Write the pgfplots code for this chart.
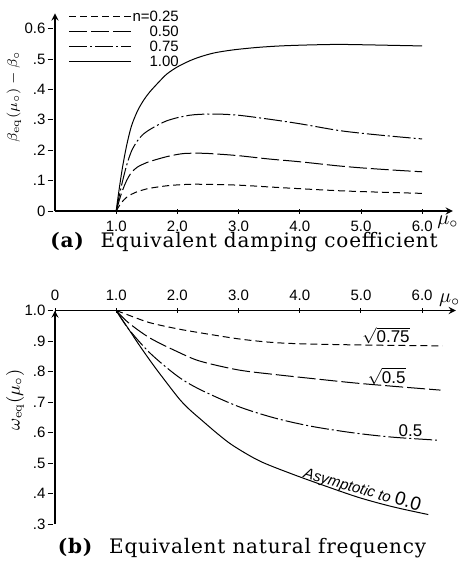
\documentclass[border=0pt]{standalone}
\usepackage{amsmath}
\usepackage{fontspec}
\usepackage{pgfplots}
\pgfplotsset{compat=1.18}
\setsansfont{Liberation Sans}
\newfontfamily\capfont[LetterSpace=4]{DejaVu Serif}

\pgfplotstableread{
x y
1.0 0
1.04 0.06
1.1 0.14
1.17 0.215
1.25 0.28
1.35 0.33
1.45 0.365
1.55 0.392
1.7 0.425
1.83 0.451
2.0 0.474
2.2 0.494
2.37 0.507
2.6 0.52
2.91 0.53
3.3 0.538
3.68 0.543
4.1 0.546
4.6 0.548
5.0 0.547
5.5 0.545
6.0 0.543
}\nA

\pgfplotstableread{
x y
1.0 0
1.05 0.05
1.1 0.095
1.17 0.15
1.25 0.197
1.35 0.232
1.45 0.254
1.55 0.268
1.7 0.285
1.83 0.297
2.0 0.307
2.2 0.315
2.37 0.318
2.64 0.319
3.0 0.315
3.5 0.302
4.0 0.287
4.6 0.266
5.0 0.256
5.5 0.246
6.0 0.237
}\nB

\pgfplotstableread{
x y
1.0 0
1.05 0.035
1.1 0.066
1.17 0.1
1.25 0.127
1.35 0.145
1.45 0.155
1.55 0.163
1.83 0.179
2.1 0.189
2.4 0.19
2.64 0.1875
3.0 0.182
3.5 0.171
4.0 0.162
4.6 0.149
5.0 0.142
5.5 0.135
6.0 0.129
}\nC

\pgfplotstableread{
x y
1.0 0
1.05 0.017
1.1 0.031
1.17 0.045
1.25 0.055
1.35 0.064
1.45 0.07
1.55 0.075
1.83 0.083
2.1 0.087
2.37 0.088
3.0 0.085
3.68 0.077
4.6 0.067
5.3 0.062
6.0 0.058
}\nD

\pgfplotstableread{
x y
1.0 1.0
1.2 0.985
1.55 0.96
2.0 0.94
2.37 0.927
3.0 0.907
3.51 0.896
4.0 0.891
5.0 0.887
6.33 0.884
}\wA

\pgfplotstableread{
x y
1.0 1.0
1.2 0.96
1.55 0.91
2.0 0.865
2.37 0.834
3.0 0.805
3.6 0.79
4.2 0.777
4.87 0.763
5.5 0.752
6.3 0.739
}\wB

\pgfplotstableread{
x y
1.0 1.0
1.2 0.94
1.55 0.861
2.0 0.785
2.37 0.741
3.0 0.685
3.6 0.647
4.2 0.62
4.87 0.599
5.5 0.585
6.24 0.575
}\wC

\pgfplotstableread{
x y
1.0 1.0
1.2 0.94
1.389 0.883
1.6 0.823
1.825 0.763
2.04 0.708
2.2 0.675
2.4 0.64
2.65 0.597
2.91 0.557
3.35 0.506
3.9 0.462
4.44 0.423
4.98 0.386
5.53 0.356
6.1 0.331
}\wD

\tikzset{
  sdash/.style={dash pattern=on 3.5pt off 2pt},
  ldash/.style={dash pattern=on 9pt off 2pt},
  ddot/.style={dash pattern=on 9pt off 1.5pt on 1pt off 1.5pt},
}

\begin{document}
\begin{tikzpicture}[x=1pt,y=1pt]
\path[use as bounding box] (0,0) rectangle (237.5,-281.5);

\pgfplotsset{
  every axis/.append style={
    scale only axis, clip=false,
    axis line style={-, line width=0.6pt},
    tick style={line width=0.5pt, black},
    tick align=inside,
    major tick length=2.5pt,
    ytick style={xshift=-2.5pt},
    ticklabel style={font=\sffamily\fontsize{7.5}{8}\selectfont},
    every axis plot/.append style={line width=0.5pt, black, smooth, tension=0.5},
  }
}

\begin{axis}[
  at={(27.5pt,-105.5pt)}, anchor=south west,
  width=198.9pt, height=98.8pt,
  xmin=0, xmax=6.5, ymin=0, ymax=0.65,
  axis x line=bottom, axis y line=left,
  xtick={1,2,3,4,5,6},
  xticklabels={1.0,2.0,3.0,4.0,5.0,6.0},
  ytick={0,0.1,0.2,0.3,0.4,0.5,0.6},
  yticklabels={0,.1,.2,.3,.4,.5,0.6},
  legend cell align=right,
  legend style={
    at={(axis description cs:0.033,1)}, anchor=north west, yshift=2pt,
    draw=none, fill=none, inner sep=0pt, row sep=0.5pt,
    font=\sffamily\fontsize{7.5}{8}\selectfont,
    nodes={inner sep=0.5pt, text height=5.5pt, text depth=0.5pt},
  },
  legend image code/.code={\draw[#1] (0pt,0pt) -- (31pt,0pt);},
]
\addplot[sdash] table {\nD};
\addlegendentry{n=0.25}
\addplot[ldash] table {\nC};
\addlegendentry{0.50}
\addplot[ddot] table {\nB};
\addlegendentry{0.75}
\addplot[solid] table {\nA};
\addlegendentry{1.00}
\node[anchor=north, font=\fontsize{10}{10}\selectfont, inner sep=0pt, yshift=-2pt] at (axis cs:6.42,0) {$\mu_{\circ}$};
\end{axis}

\begin{axis}[
  at={(27.5pt,-262pt)}, anchor=south west,
  width=200.4pt, height=106.75pt,
  xmin=0, xmax=6.55, ymin=0.3, ymax=1.0,
  axis x line=top, axis y line=left,
  xtick={0,1,2,3,4,5,6},
  xticklabels={0,1.0,2.0,3.0,4.0,5.0,6.0},
  ytick={0.3,0.4,0.5,0.6,0.7,0.8,0.9,1.0},
  yticklabels={.3,.4,.5,.6,.7,.8,.9,1.0},
]
\addplot[sdash] table {\wA};
\addplot[ldash] table {\wB};
\addplot[ddot] table {\wC};
\addplot[solid] table {\wD};
\node[anchor=base, font=\sffamily\fontsize{8.5}{9}\selectfont, inner sep=0pt] at (axis cs:5.41,0.896) {$\sqrt{\text{\sffamily 0.75}}$};
\node[anchor=base, font=\sffamily\fontsize{8.5}{9}\selectfont, inner sep=0pt] at (axis cs:5.42,0.762) {$\sqrt{\text{\sffamily 0.5}}$};
\node[anchor=base, font=\sffamily\fontsize{8.5}{9}\selectfont, inner sep=0pt] at (axis cs:5.81,0.588) {0.5};
\node[anchor=base, rotate=-16, inner sep=0pt] at (axis cs:5.0,0.397) {\sffamily\itshape\fontsize{7.5}{8}\selectfont Asymptotic to \upshape\fontsize{9.5}{10}\selectfont 0.0};
\node[anchor=south, font=\fontsize{10}{10}\selectfont, inner sep=0pt, yshift=2pt] at (axis cs:6.45,1.0) {$\mu_{\circ}$};
\end{axis}

% axis titles (y labels)
\node[rotate=90, font=\fontsize{7.5}{8}\selectfont, inner sep=0pt] at (7,-48.5) {$\beta_{\mathrm{eq}}(\mu_{\circ})-\beta_{\circ}$};
\node[rotate=90, font=\fontsize{9}{9}\selectfont, inner sep=0pt] at (7.5,-200) {$\omega_{\mathrm{eq}}(\mu_{\circ})$};

% captions
\node[font=\capfont\fontsize{10}{11}\selectfont, inner sep=0pt] at (122,-121) {\textbf{(a)}\hspace{0.8em}Equivalent damping coefficient};
\node[font=\capfont\fontsize{10}{11}\selectfont, inner sep=0pt] at (121,-274) {\textbf{(b)}\hspace{0.8em}Equivalent natural frequency};
\end{tikzpicture}
\end{document}
